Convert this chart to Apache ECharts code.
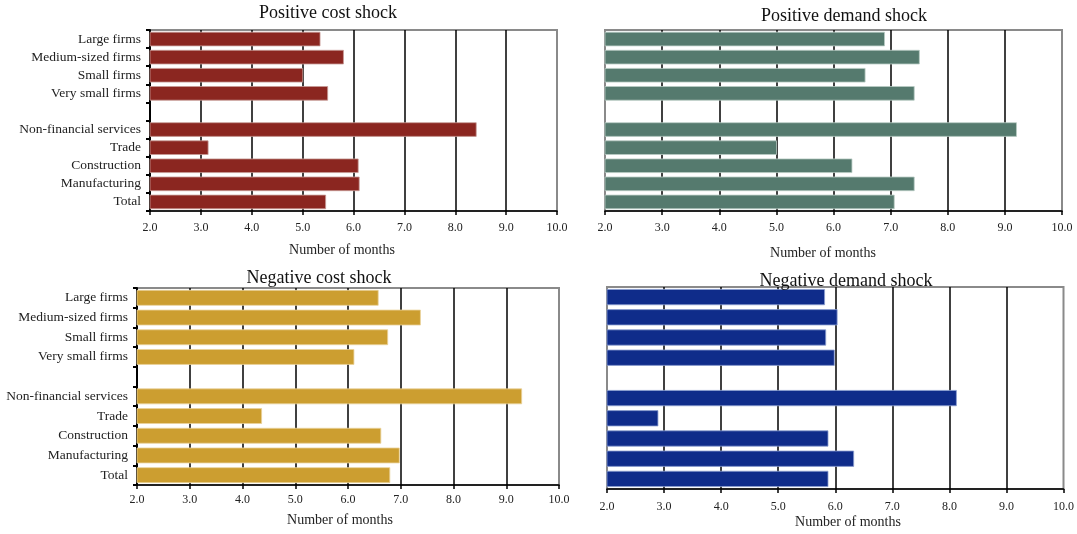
<!DOCTYPE html>
<html>
<head>
<meta charset="utf-8">
<script src="https://cdn.jsdelivr.net/npm/echarts@6/dist/echarts.min.js"></script>
<style>
  html, body { margin: 0; padding: 0; background: #fff; }
  #chart { width: 1077px; height: 534px; }
</style>
</head>
<body>
<div id="chart"></div>
<script>
// Categories, top to bottom; the empty entry separates firm size from sector
const categories = ['Large firms', 'Medium-sized firms', 'Small firms', 'Very small firms', '',
  'Non-financial services', 'Trade', 'Construction', 'Manufacturing', 'Total'];

// Number of months per shock type
const positiveCost   = [5.35, 5.81, 5.01, 5.50, null, 8.42, 3.15, 6.10, 6.12, 5.46];
const positiveDemand = [6.90, 7.51, 6.56, 7.42, null, 9.21, 5.01, 6.33, 7.42, 7.07];
const negativeCost   = [6.58, 7.38, 6.76, 6.12, null, 9.30, 4.37, 6.63, 6.98, 6.80];
const negativeDemand = [5.82, 6.04, 5.84, 5.99, null, 8.13, 2.90, 5.88, 6.33, 5.88];

const panelTitles = ['Positive cost shock', 'Positive demand shock', 'Negative cost shock', 'Negative demand shock'];
const axisTitle = 'Number of months';
const xMin = 2, xMax = 10, xStep = 1;

const FONT = '"Liberation Serif", "DejaVu Serif", serif';
const TEXT = '#222';

const panels = [
  { data: positiveCost,   color: '#8B2620', edge: '#c79a96', grid: { left: 150, top: 30,  width: 407, height: 181 }, labels: true,  titleXY: [328, 13], nameXY: [342, 250], labelMargin: 11 },
  { data: positiveDemand, color: '#557A6E', edge: '#b9cbc4', grid: { left: 605, top: 30,  width: 457, height: 181 }, labels: false, titleXY: [844, 16], nameXY: [823, 253], labelMargin: 11 },
  { data: negativeCost,   color: '#CC9E30', edge: '#ead29a', grid: { left: 137, top: 288, width: 422, height: 197 }, labels: true,  titleXY: [319, 278], nameXY: [340, 520], labelMargin: 9 },
  { data: negativeDemand, color: '#0F2C8A', edge: '#8d9fd0', grid: { left: 607, top: 287, width: 457, height: 202 }, labels: false, titleXY: [846, 281], nameXY: [848, 522], labelMargin: 12 }
];

const grid = [], xAxis = [], yAxis = [], series = [], graphic = [];

panels.forEach((p, i) => {
  grid.push(Object.assign({
    show: true, borderColor: '#8a8a8a', borderWidth: 2, backgroundColor: 'transparent', containLabel: false
  }, p.grid));

  xAxis.push({
    type: 'value', gridIndex: i, min: xMin, max: xMax, interval: xStep,
    axisLine: { show: true, onZero: false, lineStyle: { color: '#000', width: 1.5 } },
    axisTick: { show: true, length: 4, inside: false, lineStyle: { color: '#000', width: 1.5 } },
    axisLabel: {
      margin: p.labelMargin, fontFamily: FONT, fontSize: 12, color: TEXT,
      formatter: v => v.toFixed(1)
    },
    // interior gridlines only; the frame keeps its grey edges
    splitLine: { show: true, showMinLine: false, showMaxLine: false, lineStyle: { color: '#000', width: 1.5 } }
  });

  yAxis.push({
    type: 'category', gridIndex: i, data: categories, inverse: true,
    axisLine: { show: p.labels, lineStyle: { color: '#000', width: 2 } },
    axisTick: { show: p.labels, length: 4, alignWithLabel: false, lineStyle: { color: '#000', width: 2 } },
    axisLabel: { show: p.labels, margin: 9, fontFamily: FONT, fontSize: 13.5, color: TEXT, interval: 0 },
    splitLine: { show: false }
  });

  series.push({
    type: 'bar', xAxisIndex: i, yAxisIndex: i, data: p.data,
    barCategoryGap: '20%',
    itemStyle: { color: p.color, borderColor: p.edge, borderWidth: 0.8 },
    silent: true, animation: false
  });

  // panel title, centred on its point
  graphic.push({
    type: 'text', x: p.titleXY[0], y: p.titleXY[1], z: 100,
    style: { text: panelTitles[i], fontFamily: FONT, fontSize: 18, fill: '#111', align: 'center', verticalAlign: 'middle' }
  });
  // horizontal axis title
  graphic.push({
    type: 'text', x: p.nameXY[0], y: p.nameXY[1], z: 100,
    style: { text: axisTitle, fontFamily: FONT, fontSize: 14, fill: TEXT, align: 'center', verticalAlign: 'middle' }
  });
});

const chart = echarts.init(document.getElementById('chart'), null, { renderer: 'canvas' });
chart.setOption({
  animation: false,
  grid, xAxis, yAxis, series, graphic
});
</script>
</body>
</html>
